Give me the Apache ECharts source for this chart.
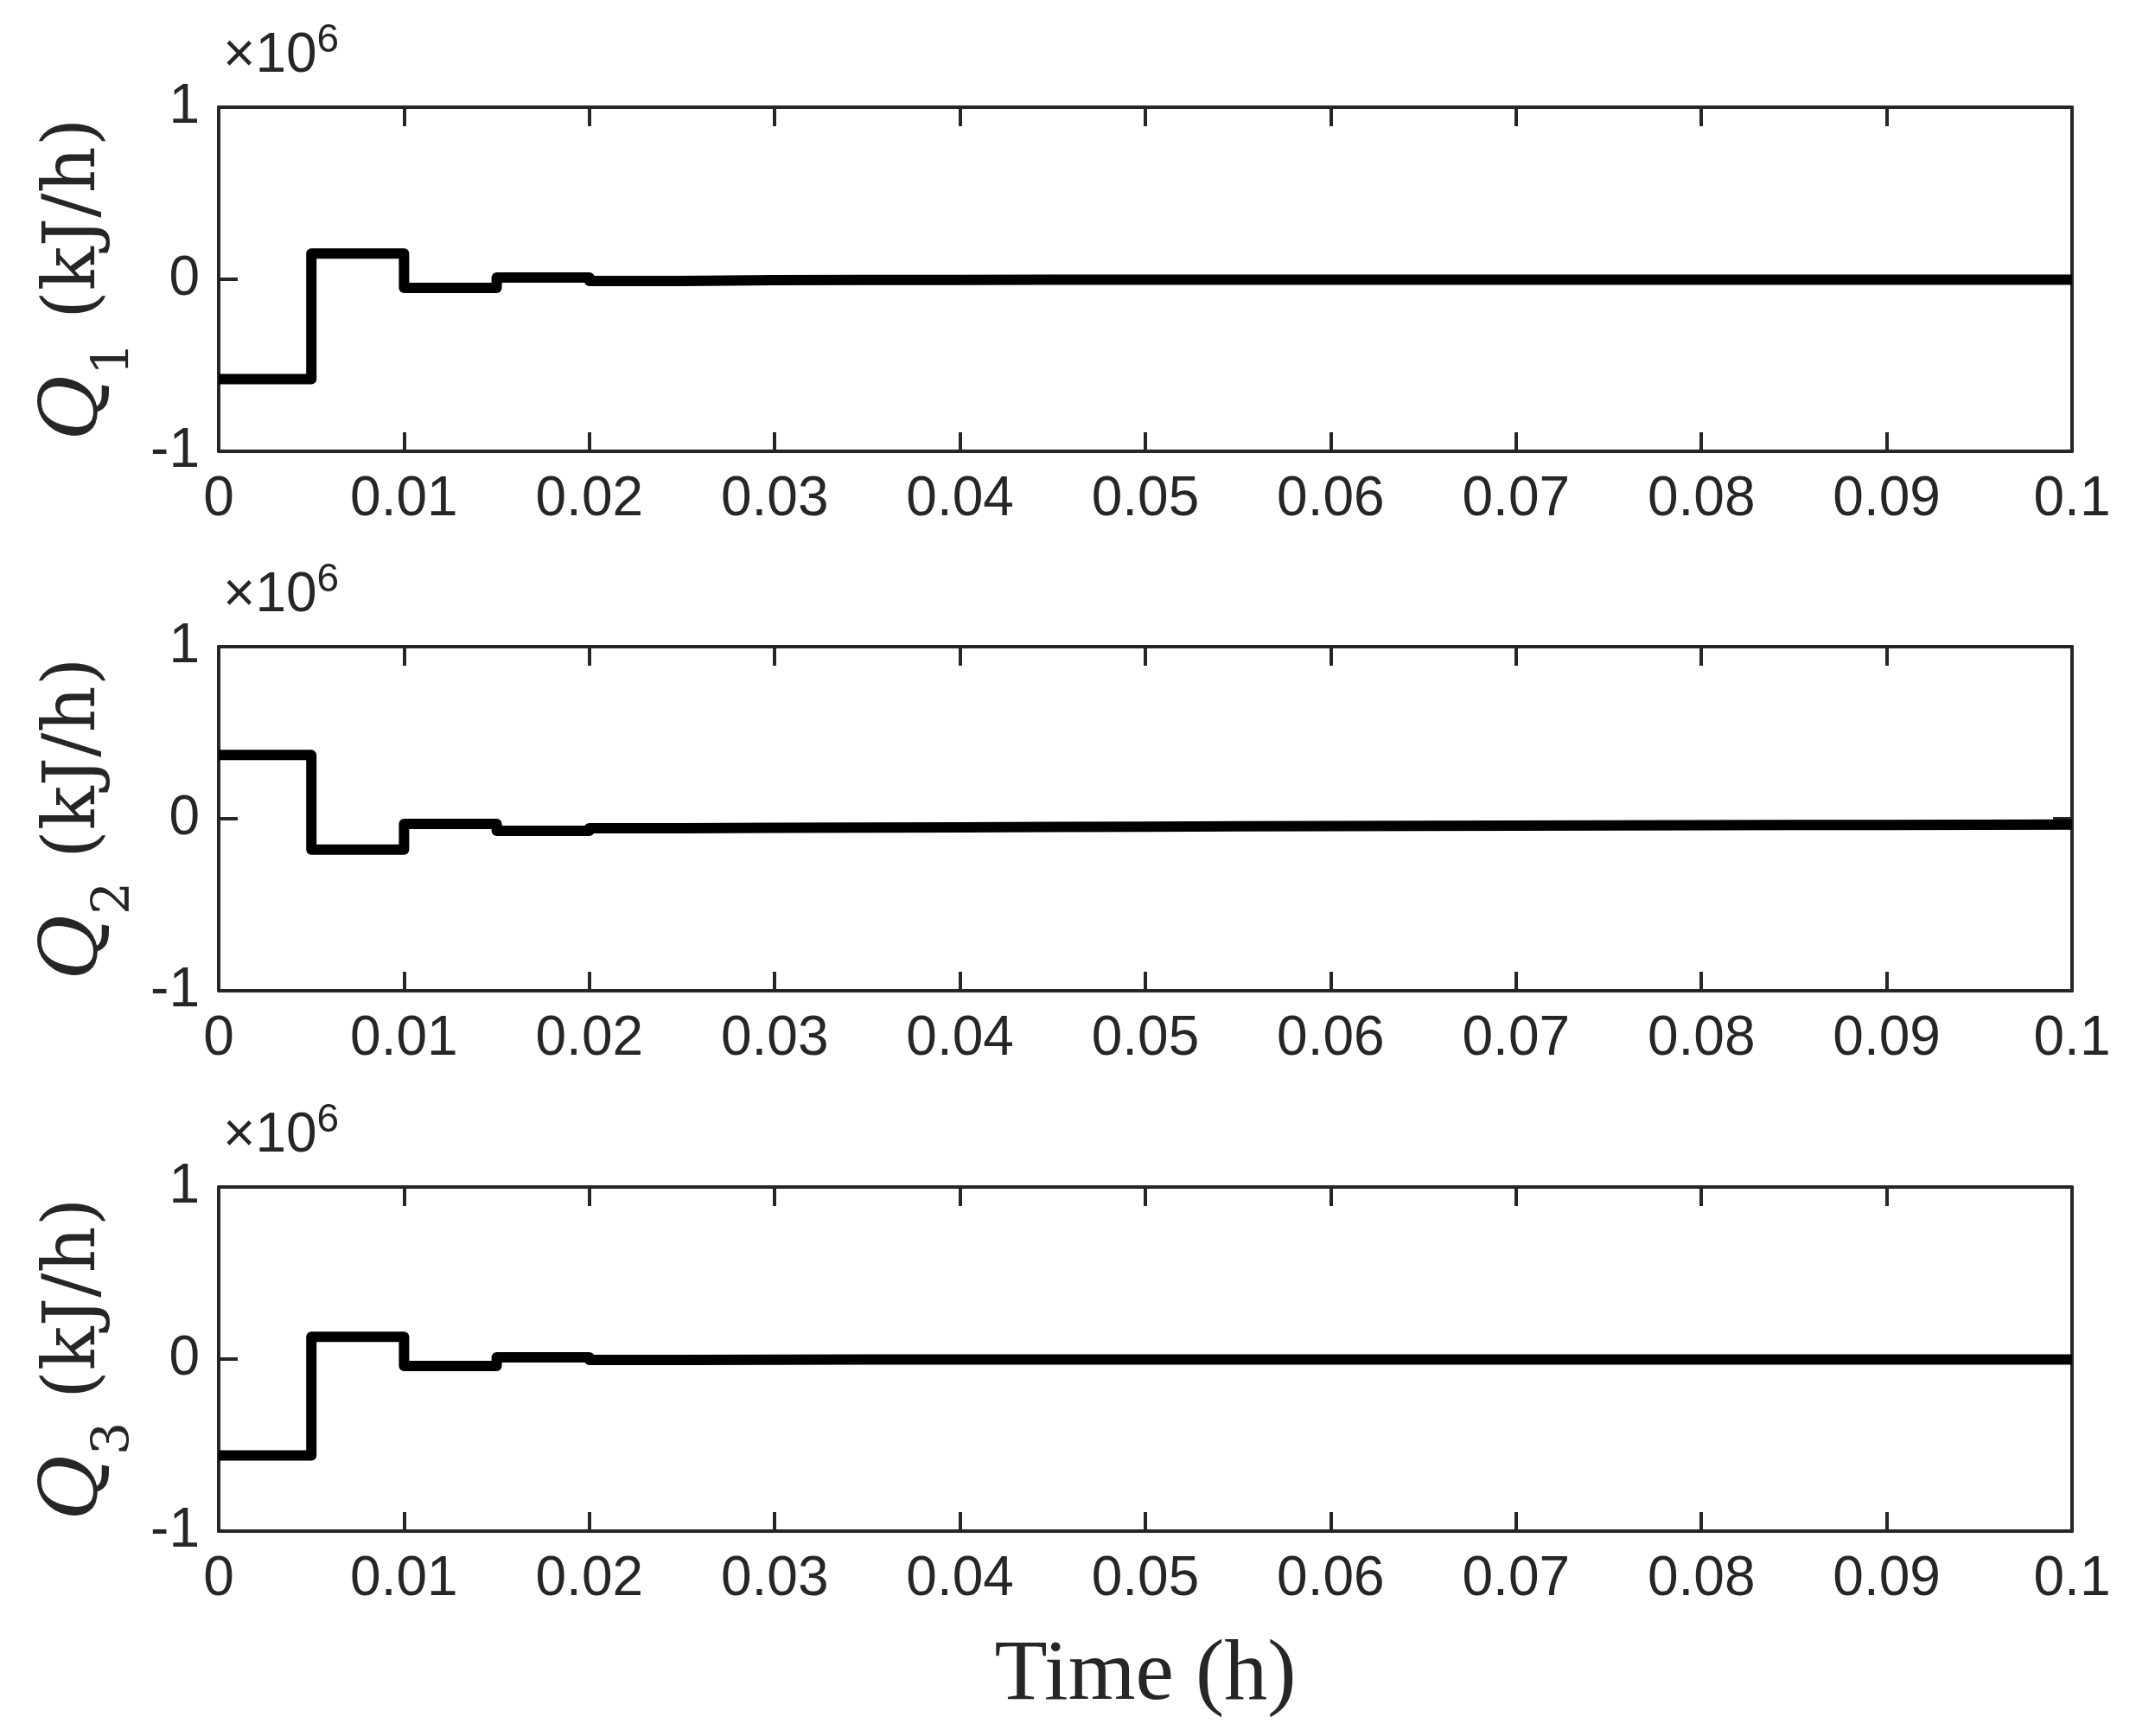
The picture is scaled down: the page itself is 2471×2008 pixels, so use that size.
<!DOCTYPE html>
<html><head><meta charset="utf-8">
<script src="https://cdn.jsdelivr.net/npm/echarts@6/dist/echarts.min.js"></script>
<style>html,body{margin:0;padding:0;background:#fff}#c{width:2471px;height:2008px}</style>
</head><body><div id="c"></div>
<script>
const times = [0,0.005,0.01,0.015,0.02,0.025,0.03,0.035,0.04,0.045,0.05,0.055,0.06,0.065,0.07,0.075,0.08,0.085,0.09,0.095,0.1];
const q1 = [-0.58,0.15,-0.05,0.01,-0.01,-0.005,-0.004,-0.004,-0.003,-0.003,-0.003,-0.003,-0.003,-0.003,-0.003,-0.003,-0.003,-0.003,-0.003,-0.003,-0.003];
const q2 = [0.37,-0.18,-0.03,-0.07,-0.055,-0.053,-0.052,-0.05,-0.048,-0.046,-0.044,-0.043,-0.042,-0.04,-0.039,-0.038,-0.037,-0.036,-0.035,-0.034,-0.034];
const q3 = [-0.56,0.13,-0.04,0.01,-0.005,-0.004,-0.003,-0.003,-0.002,-0.002,-0.002,-0.002,-0.002,-0.002,-0.002,-0.002,-0.002,-0.002,-0.002,-0.002,-0.002];
const xTicks = [0,0.01,0.02,0.03,0.04,0.05,0.06,0.07,0.08,0.09,0.1];
const yTicks = [-1,0,1];
const seriesData = [q1,q2,q3];
const names = ['1','2','3'];

const tops = [124,748,1373], H = 398, L = 253, W = 2144;
const ax = '#262626', font = 'Liberation Sans';
const grids=[], xAxes=[], yAxes=[], series=[];
const lbl = {fontFamily:font,fontSize:64,color:ax};
for (let i=0;i<3;i++){
  grids.push({left:L,top:tops[i],width:W,height:H});
  const base = {type:'value',min:0,max:0.1,interval:0.01,gridIndex:i,
    axisLine:{show:true,onZero:false,lineStyle:{color:ax,width:4}},
    axisTick:{show:true,inside:true,length:22,lineStyle:{color:ax,width:4}},
    splitLine:{show:false}};
  xAxes.push(Object.assign({},base,{position:'bottom',
    axisLabel:Object.assign({margin:24,formatter:v=>xTicks.includes(+v.toFixed(2))?String(+v.toFixed(2)):''},lbl),
    name: i===2?'Time (h)':'', nameLocation:'middle', nameGap:118,
    nameTextStyle:{fontFamily:'Liberation Serif',fontSize:100,color:ax}}));
  xAxes.push(Object.assign({},base,{position:'top',axisLabel:{show:false}}));
  const yb = {type:'value',min:-1,max:1,interval:1,gridIndex:i,
    axisLine:{show:true,onZero:false,lineStyle:{color:ax,width:4}},
    axisTick:{show:true,inside:true,length:22,lineStyle:{color:ax,width:4}},
    splitLine:{show:false}};
  yAxes.push(Object.assign({},yb,{position:'left',
    axisLabel:Object.assign({margin:22,formatter:v=>String(v)},lbl),
    name:'{q|Q}{s|'+names[i]+'}{t| (kJ/h)}', nameLocation:'middle', nameGap:112, nameRotate:90,
    nameTextStyle:{rich:{
      q:{fontFamily:'DejaVu Serif',fontStyle:'italic',fontSize:92,color:ax},
      s:{fontFamily:'DejaVu Serif',fontSize:60,color:ax,verticalAlign:'bottom',padding:[0,0,-30,0]},
      t:{fontFamily:'DejaVu Serif',fontSize:84,color:ax}}}}));
  yAxes.push(Object.assign({},yb,{position:'right',axisLabel:{show:false}}));
  series.push({type:'line',xAxisIndex:2*i,yAxisIndex:2*i,step:'end',showSymbol:false,
    data:times.map((t,k)=>[t,seriesData[i][k]]),
    lineStyle:{color:'#000',width:12,join:'round'}});
}
const graphics = tops.map(t=>({type:'text',left:258,top:t-100,
  style:{text:'×10{e|6}',rich:{e:{fontSize:46,verticalAlign:'top',padding:[0,0,36,0],fontFamily:font,fill:ax}},
  fontFamily:font,fontSize:64,fill:ax}}));
const chart = echarts.init(document.getElementById('c'));
chart.setOption({animation:false,backgroundColor:'#fff',grid:grids,xAxis:xAxes,yAxis:yAxes,series,graphic:graphics});
</script></body></html>
